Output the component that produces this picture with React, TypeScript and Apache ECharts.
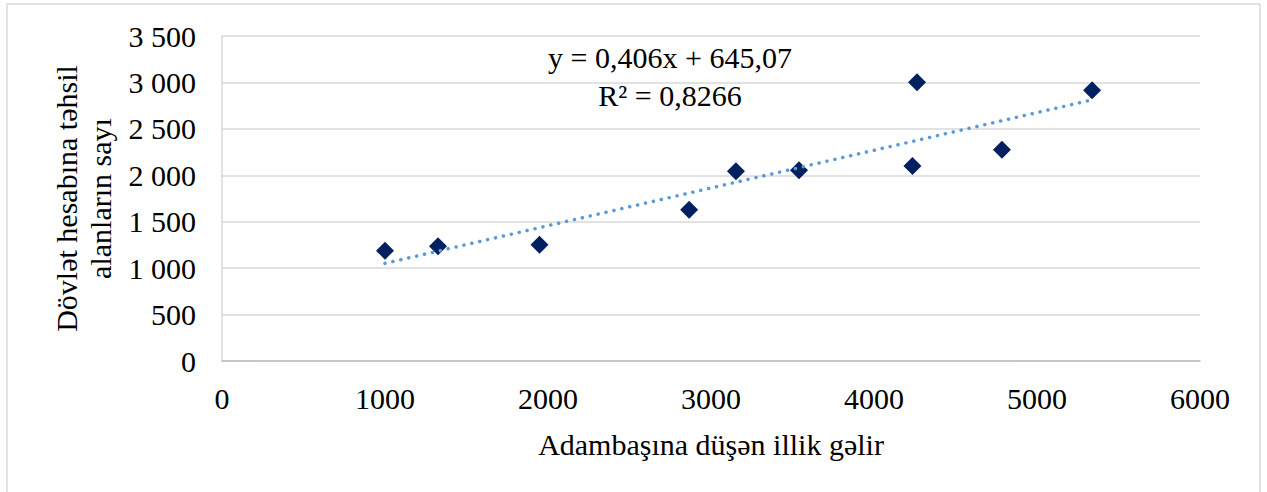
import React, { useEffect, useRef } from "react";
import * as echarts from "echarts";

const incomeX = [1000, 1325, 1948, 2866, 3153, 3540, 4236, 4264, 4785, 5338];
const studentsY = [1188, 1235, 1253, 1629, 2044, 2055, 2101, 3003, 2276, 2917];
const trendSlope = 0.406;
const trendIntercept = 645.07;
const equationLines = ["y = 0,406x + 645,07", "R² = 0,8266"];
const xAxisTitle = "Adambaşına düşən illik gəlir";
const yAxisTitle = "Dövlət hesabına təhsil\nalanların sayı";

const FONT = '"Liberation Serif", "Times New Roman", serif';
const FS = 30;

export default function App() {
  const ref = useRef<HTMLDivElement>(null);
  useEffect(() => {
    if (!ref.current) return;
    const chart = echarts.init(ref.current, null, { renderer: "svg" });
    const pts = incomeX.map((x, i) => [x, studentsY[i]]);
    const xMin = Math.min(...incomeX);
    const xMax = Math.max(...incomeX);
    const trend = [
      [xMin, trendSlope * xMin + trendIntercept],
      [xMax, trendSlope * xMax + trendIntercept],
    ];
    chart.setOption({
      animation: false,
      backgroundColor: "#ffffff",
      textStyle: { fontFamily: FONT },
      grid: { left: 222, right: 67, top: 36, bottom: 131 },
      xAxis: {
        type: "value",
        min: 0,
        max: 6000,
        interval: 1000,
        name: xAxisTitle,
        nameLocation: "middle",
        nameGap: 68,
        nameTextStyle: { fontFamily: FONT, fontSize: FS, color: "#000" },
        axisLine: { show: true, lineStyle: { color: "#bfbfbf", width: 1.5 } },
        axisTick: { show: false },
        splitLine: { show: false },
        axisLabel: {
          fontFamily: FONT,
          fontSize: FS,
          color: "#000",
          margin: 22,
          formatter: (v: number) => String(v),
        },
      },
      yAxis: {
        type: "value",
        min: 0,
        max: 3500,
        interval: 500,
        name: yAxisTitle,
        nameLocation: "middle",
        nameGap: 103,
        nameRotate: 90,
        nameTextStyle: { fontFamily: FONT, fontSize: FS, color: "#000", lineHeight: 34, align: "center" },
        axisLine: { show: true, lineStyle: { color: "#d9d9d9", width: 1.5 } },
        axisTick: { show: false },
        splitLine: { show: true, lineStyle: { color: "#d9d9d9", width: 1.5 } },
        axisLabel: {
          fontFamily: FONT,
          fontSize: FS,
          color: "#000",
          margin: 26,
          formatter: (v: number) => String(v).replace(/\B(?=(\d{3})+(?!\d))/g, " "),
        },
      },
      graphic: [
        {
          type: "rect",
          silent: true,
          shape: { x: 7, y: 4, width: 1253, height: 520 },
          style: { fill: "none", stroke: "#d9d9d9", lineWidth: 1.5 },
          z: -10,
        },
        {
          type: "text",
          x: 670,
          y: 76,
          style: {
            text: equationLines.join("\n"),
            fontFamily: FONT,
            fontSize: FS,
            lineHeight: 38,
            fill: "#000",
            align: "center",
            verticalAlign: "middle",
          },
        },
      ],
      series: [
        {
          type: "scatter",
          data: pts,
          symbol: "diamond",
          symbolSize: [18, 18],
          itemStyle: { color: "#002060", opacity: 1 },
          z: 2,
        },
        {
          type: "line",
          data: trend,
          showSymbol: false,
          symbol: "none",
          lineStyle: { color: "#5B9BD5", width: 3.5, type: [0.1, 8], cap: "round" },
          z: 3,
        },
      ],
    });
    return () => chart.dispose();
  }, []);
  return (
    <div
      ref={ref}
      style={{ position: "fixed", left: 0, top: 0, width: 1267, height: 492 }}
    />
  );
}
